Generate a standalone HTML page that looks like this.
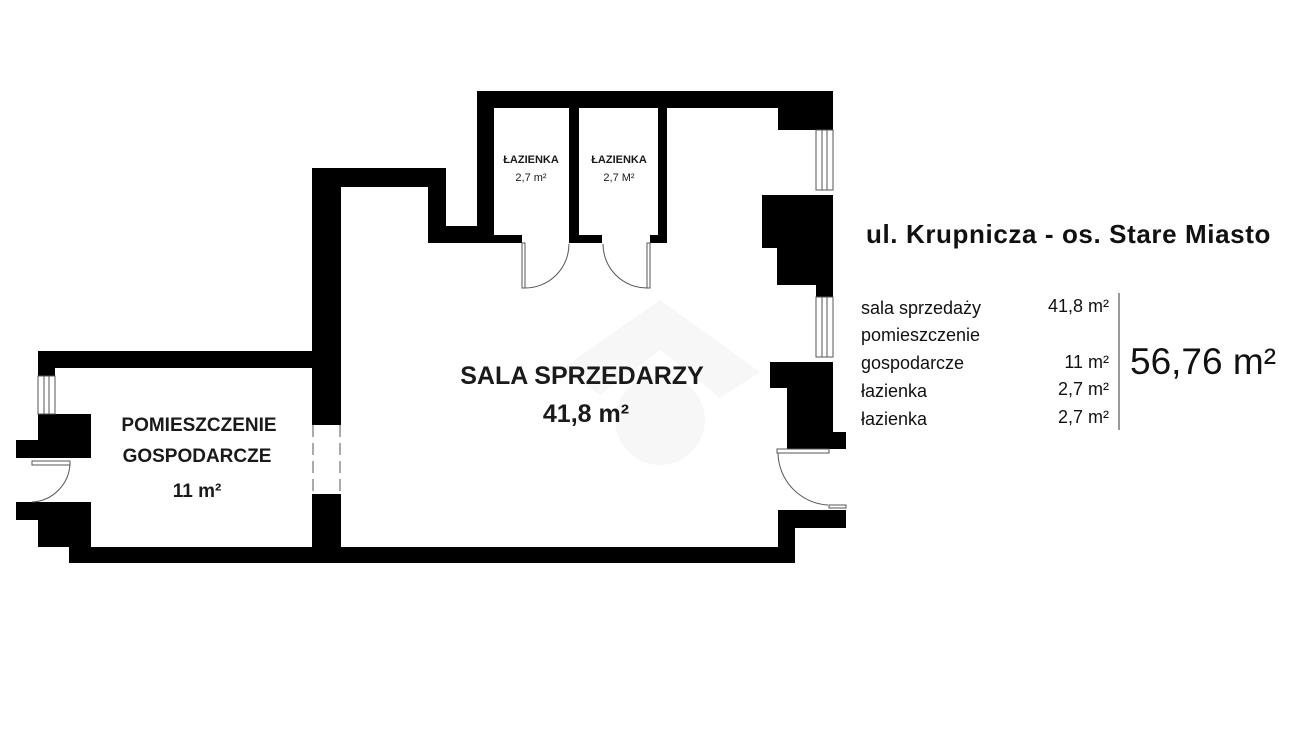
<!DOCTYPE html>
<html><head><meta charset="utf-8"><style>
body{margin:0;background:#fff;width:1300px;height:731px;overflow:hidden}
svg{position:absolute;left:0;top:0}
text{font-family:"Liberation Sans",sans-serif}
</style></head><body>
<svg width="1300" height="731" viewBox="0 0 1300 731">
<g fill="#000">
<rect x="312" y="168" width="134" height="19"/>
<rect x="312" y="168" width="29" height="257"/>
<rect x="312" y="494" width="29" height="69"/>
<rect x="428" y="168" width="18" height="75"/>
<rect x="428" y="226" width="66" height="17"/>
<rect x="477" y="91" width="17" height="152"/>
<rect x="477" y="91" width="356" height="17"/>
<rect x="569" y="91" width="10" height="152"/>
<rect x="658" y="91" width="9" height="152"/>
<rect x="494" y="235" width="28" height="8"/>
<rect x="579" y="235" width="23" height="8"/>
<rect x="650" y="235" width="8" height="8"/>
<rect x="778" y="91" width="55" height="39"/>
<rect x="762" y="195" width="71" height="53"/>
<rect x="777" y="248" width="56" height="37"/>
<rect x="816" y="285" width="17" height="12"/>
<rect x="770" y="362" width="63" height="26"/>
<rect x="787" y="388" width="46" height="61"/>
<rect x="833" y="432" width="13" height="17"/>
<rect x="778" y="510" width="68" height="18"/>
<rect x="778" y="510" width="17" height="53"/>
<rect x="69" y="547" width="726" height="16"/>
<rect x="38" y="351" width="274" height="17"/>
<rect x="38" y="351" width="17" height="25"/>
<rect x="38" y="414" width="53" height="44"/>
<rect x="16" y="440" width="75" height="18"/>
<rect x="16" y="502" width="75" height="18"/>
<rect x="38" y="520" width="53" height="27"/>
<rect x="69" y="540" width="22" height="10"/>
</g>
<g fill="none" stroke="#555" stroke-width="1">
<rect x="816" y="130" width="17" height="60"/><line x1="822" y1="130" x2="822" y2="190"/><line x1="827" y1="130" x2="827" y2="190"/>
<rect x="816" y="297" width="17" height="60"/><line x1="822" y1="297" x2="822" y2="357"/><line x1="827" y1="297" x2="827" y2="357"/>
<rect x="38" y="376" width="17" height="38"/><line x1="44" y1="376" x2="44" y2="414"/><line x1="49" y1="376" x2="49" y2="414"/>
<line x1="313" y1="425" x2="313" y2="494" stroke-dasharray="12,6"/>
<line x1="340" y1="425" x2="340" y2="494" stroke-dasharray="12,6"/>
<rect x="522" y="243" width="3" height="45"/><path d="M525 288 A44 44 0 0 0 569 244"/>
<rect x="647" y="243" width="3" height="45"/><path d="M647 288 A44 44 0 0 1 603 244"/>
<rect x="777" y="449" width="52" height="4"/><path d="M778 453 A53 53 0 0 0 828 505"/>
<rect x="32" y="461" width="38" height="4"/><path d="M70 463 A40 40 0 0 1 32 502"/>
<rect x="829" y="505" width="17" height="3"/>
</g>
<g fill="#f6f6f6" opacity="0.8">
<polygon points="560,370 660,300 760,372 720,398 660,350 600,395"/>
<circle cx="660" cy="420" r="45"/>
</g>
<g text-anchor="middle" font-weight="bold" fill="#1a1a1a">
<text x="531" y="163" font-size="11">ŁAZIENKA</text>
<text x="531" y="181" font-size="11" font-weight="normal">2,7 m²</text>
<text x="619" y="163" font-size="11">ŁAZIENKA</text>
<text x="619" y="181" font-size="11" font-weight="normal">2,7 M²</text>
<text x="582" y="384" font-size="25">SALA SPRZEDARZY</text>
<text x="586" y="422" font-size="25">41,8 m²</text>
<text x="199" y="431" font-size="19">POMIESZCZENIE</text>
<text x="197" y="462" font-size="19">GOSPODARCZE</text>
<text x="197" y="497" font-size="19">11 m²</text>
</g>
<text x="866" y="243" font-size="26" font-weight="bold" letter-spacing="0.6" fill="#111">ul. Krupnicza - os. Stare Miasto</text>
<g font-size="18" fill="#111">
<text x="861" y="314">sala sprzedaży</text>
<text x="861" y="341">pomieszczenie</text>
<text x="861" y="369">gospodarcze</text>
<text x="861" y="397">łazienka</text>
<text x="861" y="425">łazienka</text>
<g text-anchor="end">
<text x="1109" y="312">41,8 m²</text>
<text x="1109" y="368">11 m²</text>
<text x="1109" y="395">2,7 m²</text>
<text x="1109" y="423">2,7 m²</text>
</g>
</g>
<line x1="1119" y1="293" x2="1119" y2="430" stroke="#999" stroke-width="2"/>
<text x="1130" y="374" font-size="37" fill="#111">56,76 m²</text>
</svg>
</body></html>
